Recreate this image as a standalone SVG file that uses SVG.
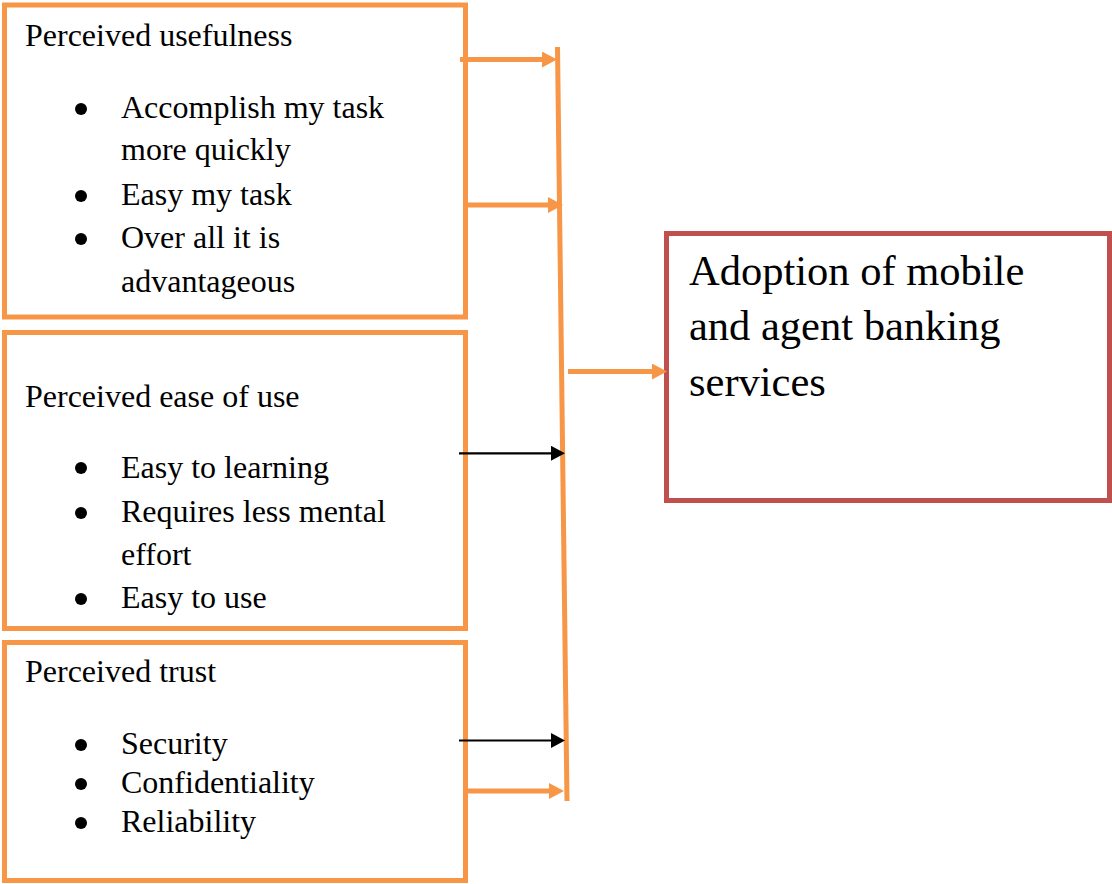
<svg xmlns="http://www.w3.org/2000/svg" width="1112" height="884" viewBox="0 0 1112 884">
  <style>
    .box { fill: #ffffff; stroke: #F79646; stroke-width: 5; }
    .target { fill: #ffffff; stroke: #C0504D; stroke-width: 5; }
    .t { font-family: "Liberation Serif", "Times New Roman", serif; font-size: 32px; fill: #000000; }
    .big { font-family: "Liberation Serif", "Times New Roman", serif; font-size: 42.5px; fill: #000000; }
    .dot { fill: #000000; }
    .orange { stroke: #F79646; stroke-width: 5; fill: none; }
    .black { stroke: #000000; stroke-width: 2.2; fill: none; }
  </style>
  <defs>
    <marker id="headOrange" markerUnits="userSpaceOnUse" markerWidth="15" markerHeight="16" refX="0" refY="8" orient="auto">
      <path d="M0,0 L15,8 L0,16 z" fill="#F79646"/>
    </marker>
    <marker id="headBlack" markerUnits="userSpaceOnUse" markerWidth="14" markerHeight="15" refX="0" refY="7.5" orient="auto">
      <path d="M0,0 L14,7.5 L0,15 z" fill="#000000"/>
    </marker>
  </defs>

  <!-- Perceived usefulness -->
  <g id="usefulness">
    <rect class="box" x="4.5" y="5" width="461" height="312"/>
    <text class="t" x="25" y="46">Perceived usefulness</text>
    <circle class="dot" cx="81" cy="109" r="6"/>
    <text class="t" x="121" y="118">Accomplish my task</text>
    <text class="t" x="121" y="160">more quickly</text>
    <circle class="dot" cx="81" cy="196" r="6"/>
    <text class="t" x="121" y="205">Easy my task</text>
    <circle class="dot" cx="81" cy="239" r="6"/>
    <text class="t" x="121" y="248">Over all it is</text>
    <text class="t" x="121" y="292">advantageous</text>
  </g>

  <!-- Perceived ease of use -->
  <g id="ease-of-use">
    <rect class="box" x="4.5" y="332.5" width="461" height="296"/>
    <text class="t" x="25" y="407">Perceived ease of use</text>
    <circle class="dot" cx="81" cy="468" r="6"/>
    <text class="t" x="121" y="478">Easy to learning</text>
    <circle class="dot" cx="81" cy="513" r="6"/>
    <text class="t" x="121" y="522">Requires less mental</text>
    <text class="t" x="121" y="565">effort</text>
    <circle class="dot" cx="81" cy="599" r="6"/>
    <text class="t" x="121" y="608">Easy to use</text>
  </g>

  <!-- Perceived trust -->
  <g id="trust">
    <rect class="box" x="4.5" y="642.5" width="461" height="238"/>
    <text class="t" x="25" y="682">Perceived trust</text>
    <circle class="dot" cx="81" cy="745" r="6"/>
    <text class="t" x="121" y="754">Security</text>
    <circle class="dot" cx="81" cy="784" r="6"/>
    <text class="t" x="121" y="793">Confidentiality</text>
    <circle class="dot" cx="81" cy="823" r="6"/>
    <text class="t" x="121" y="832">Reliability</text>
  </g>

  <!-- Adoption outcome -->
  <g id="adoption">
    <rect class="target" x="666.5" y="233.5" width="443" height="267"/>
    <text class="big" x="689" y="285">Adoption of mobile</text>
    <text class="big" x="689" y="340">and agent banking</text>
    <text class="big" x="689" y="396">services</text>
  </g>

  <!-- Connectors -->
  <g id="connectors">
    <line class="orange" x1="557.5" y1="47" x2="567" y2="801"/>
    <line class="orange" x1="460" y1="59.5" x2="542" y2="59.5" marker-end="url(#headOrange)"/>
    <line class="orange" x1="467" y1="205" x2="548" y2="205" marker-end="url(#headOrange)"/>
    <line class="orange" x1="568" y1="371.5" x2="652" y2="371.5" marker-end="url(#headOrange)"/>
    <line class="orange" x1="468" y1="791" x2="549" y2="791" marker-end="url(#headOrange)"/>
    <line class="black" x1="459" y1="453.3" x2="551" y2="453.3" marker-end="url(#headBlack)"/>
    <line class="black" x1="459" y1="740.5" x2="551" y2="740.5" marker-end="url(#headBlack)"/>
  </g>
</svg>
